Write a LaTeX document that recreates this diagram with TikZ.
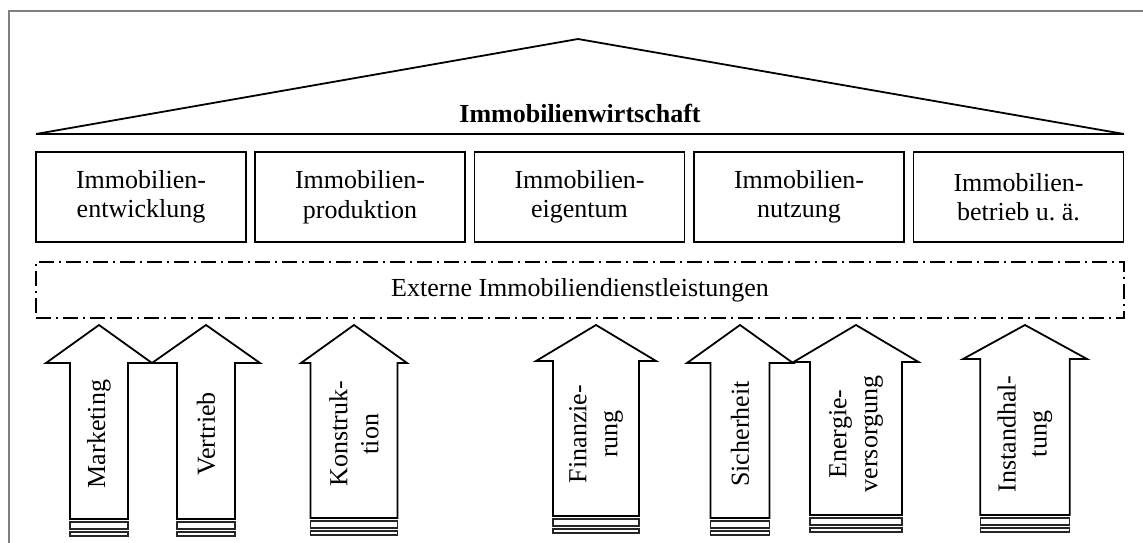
\documentclass[tikz,border=0pt]{standalone}
\usepackage{fontspec}
\setmainfont{Liberation Serif}
\tikzset{
  outline/.style={draw=black, line width=1.8pt},
  sector/.style={outline, minimum width=210pt, minimum height=90pt, inner sep=0pt,
    align=center, font=\fontsize{26}{29.5}\selectfont},
  extbox/.style={draw=black, line width=1.8pt, dash pattern=on 15pt off 5pt on 2pt off 5pt,
    minimum width=1088pt, minimum height=56pt, inner sep=0pt,
    font=\fontsize{26}{29}\selectfont},
  title/.style={font=\fontsize{26}{29}\selectfont\bfseries, inner sep=0pt},
  arrowline/.style={draw=black, fill=white, line width=1.8pt, line join=miter},
  barline/.style={draw=black!85, line width=1.3pt},
  arrowtext/.style={font=\fontsize{26}{31}\selectfont, inner sep=0pt},
  frameline/.style={draw=black!50, line width=1.5pt}
}
% block arrow: #1 name, #2 centre x, #3 head half width, #4 shaft half width,
% #5 head base y, #6 shaft bottom y, #7 label
\newcommand\ImmoArrow[7]{%
  \draw[arrowline] (#2,325) -- (#2+#3,#5) -- (#2+#4,#5) -- (#2+#4,#6)
    -- (#2-#4,#6) -- (#2-#4,#5) -- (#2-#3,#5) -- cycle;
  \draw[barline] (#2-#4,#6+3) rectangle (#2+#4,#6+10);
  \draw[barline] (#2-#4,#6+13) rectangle (#2+#4,#6+17);
  \node[arrowtext, rotate=90, align=center] (#1) at (#2,434) {#7};
}
\begin{document}
\begin{tikzpicture}[x=1pt, y=-1pt]
  \useasboundingbox (0,0) rectangle (1143,543);
  % outer frame
  \draw[frameline] (9,543) -- (9,11) -- (1143,11);

  % roof
  \coordinate (apex) at (578,39);
  \coordinate (eaveL) at (36,134);
  \coordinate (eaveR) at (1124,134);
  \draw[outline, line join=miter] (eaveL) -- (apex) -- (eaveR) -- cycle;
  \node[title, anchor=base] (roof) at (580,122) {Immobilienwirtschaft};

  % sectors
  \node[sector] (s1) at (141,197)   {Immobilien-\\entwicklung};
  \node[sector] (s2) at (360,197)   {Immobilien-\\produktion};
  \node[sector] (s3) at (579.5,197) {Immobilien-\\eigentum};
  \node[sector] (s4) at (799,197)   {Immobilien-\\nutzung};
  \node[sector] (s5) at (1018.5,197){Immobilien-\\betrieb u.\ ä.};

  % external services
  \node[extbox] (ext) at (580,290) {Externe Immobiliendienstleistungen};

  % supporting services
  \ImmoArrow{a1}{99}{53}{29}{363}{519}{Marketing}
  \ImmoArrow{a2}{206}{54}{29}{363}{519}{Vertrieb}
  \ImmoArrow{a3}{354}{53}{43.5}{363}{518}{Konstruk-\\tion}
  \ImmoArrow{a4}{596}{60}{43}{361}{516}{Finanzie-\\rung}
  \ImmoArrow{a5}{740}{53}{29.5}{363}{518}{Sicherheit}
  \ImmoArrow{a6}{856}{62.5}{46}{362}{515}{Energie-\\versorgung}
  \ImmoArrow{a7}{1025}{62}{44.7}{359}{515}{Instandhal-\\tung}
\end{tikzpicture}
\end{document}
